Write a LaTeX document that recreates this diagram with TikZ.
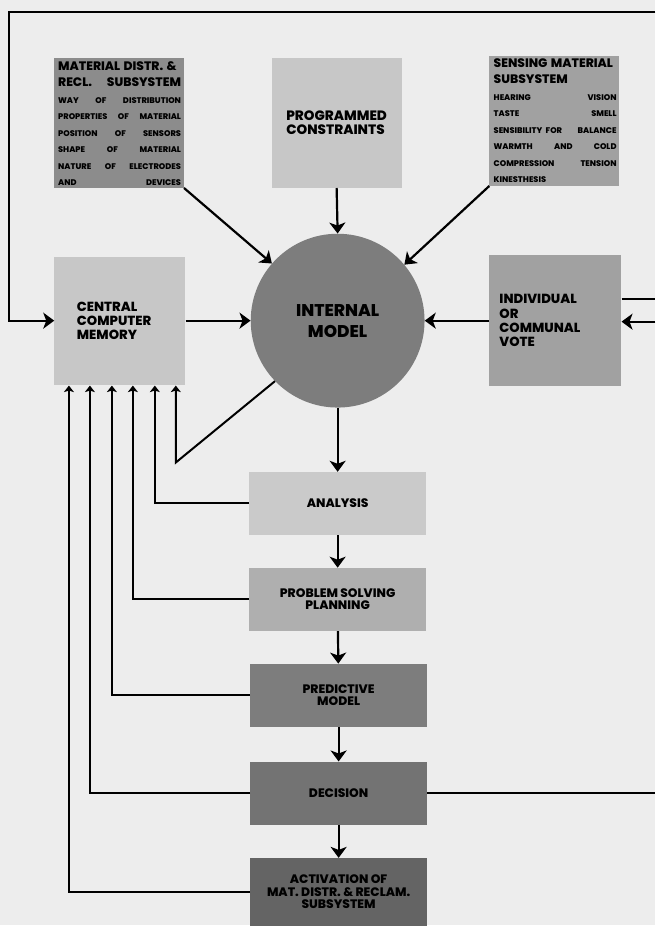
\documentclass[tikz,border=0pt]{standalone}
\usepackage{fontspec}
\setmainfont{Poppins}[BoldFont={Poppins ExtraBold}]
\usetikzlibrary{arrows.meta,positioning}

\definecolor{paper}{gray}{0.93}
\definecolor{darkbox}{gray}{0.55}
\definecolor{midbox}{gray}{0.63}
\definecolor{lightbox}{gray}{0.78}
\definecolor{modelgray}{gray}{0.49}

\newcommand{\titlefont}{\bfseries\fontsize{12.3}{15.5}\selectfont}
\newcommand{\listfont}{\bfseries\fontsize{8.2}{16.6}\selectfont}

\begin{document}
\begin{tikzpicture}[x=1pt,y=-1pt,
  box/.style={fill=#1, minimum width=130pt, minimum height=130pt, inner sep=0pt},
  flow/.style={fill=#1, minimum width=177pt, minimum height=63pt, inner sep=0pt,
    align=center, font=\bfseries\fontsize{12.3}{12.5}\selectfont},
  boxtext/.style={text width=123pt, inner sep=0pt, align=left},
  wire/.style={line width=2.2pt},
  bigarrow/.style={wire,-{Stealth[length=11pt,width=16pt,inset=3pt]}},
  fb/.style={line width=2pt,-{Stealth[length=6.5pt,width=10pt,inset=1.5pt]}}]

% paper
\fill[paper] (0,0) rectangle (656,926);

% top row
\node[box=darkbox] (mat) at (119,123) {};
\node[boxtext, anchor=north west] (mattext) at (58,62)
  {{\titlefont MATERIAL DISTR. \&\\ RECL. \hfill SUBSYSTEM\par}
   {\listfont WAY \hfill OF \hfill DISTRIBUTION\\
   PROPERTIES \hfill OF \hfill MATERIAL\\
   POSITION \hfill OF \hfill SENSORS\\
   SHAPE \hfill OF \hfill MATERIAL\\
   NATURE \hfill OF \hfill ELECTRODES\\
   AND \hfill DEVICES\par}};
\node[box=lightbox, align=left, font=\bfseries\fontsize{13.6}{13.5}\selectfont] (prog) at (337,123)
  {PROGRAMMED\\CONSTRAINTS};
\node[box=midbox] (sens) at (555,121) {};
\node[boxtext, anchor=north west] (senstext) at (494,59)
  {{\titlefont SENSING MATERIAL\\ SUBSYSTEM\par}
   {\listfont HEARING \hfill VISION\\
   TASTE \hfill SMELL\\
   SENSIBILITY FOR \hfill BALANCE\\
   WARMTH \hfill AND \hfill COLD\\
   COMPRESSION \hfill TENSION\\
   KINESTHESIS\par}};

% middle row
\node[box=lightbox, minimum width=131pt, minimum height=128pt, text width=86pt, align=left,
  font=\bfseries\fontsize{13.2}{13.8}\selectfont] (ccm) at (120,321)
  {CENTRAL\\COMPUTER\\MEMORY};
\node[circle, fill=modelgray, minimum size=174pt, inner sep=0pt, align=center,
  font=\bfseries\fontsize{17}{21}\selectfont] (model) at (338,321)
  {INTERNAL\\MODEL};
\node[box=midbox, minimum width=132pt, minimum height=131pt, text width=112pt, align=left,
  font=\bfseries\fontsize{13.2}{14.5}\selectfont] (vote) at (556,321)
  {INDIVIDUAL\\OR\\COMMUNAL\\VOTE};

% chain
\node[flow=lightbox!95!white] (analysis) at (338,504) {ANALYSIS};
\node[flow=lightbox!88!black] (problem) at (338,600) {PROBLEM SOLVING\\PLANNING};
\node[flow=modelgray] (predict) at (339,696) {PREDICTIVE\\MODEL};
\node[flow=modelgray!92!black] (decision) at (339,794) {DECISION};
\node[flow=modelgray!80!black, minimum height=68pt] (activate) at (339,893)
  {ACTIVATION OF\\MAT. DISTR. \& RECLAM.\\SUBSYSTEM};

% coordinates
\coordinate (topright) at (656,12);
\coordinate (topleft) at (9,12);
\coordinate (voteout) at (656,299);
\coordinate (votein) at (656,322);
\coordinate (decout) at (656,794);
\coordinate (bend) at (176,463);
\foreach \i/\x in {1/69,2/90,3/112,4/133,5/155,6/176}
  \coordinate (in\i) at (\x,386);

% into the model
\draw[bigarrow] (mat.south east) -- (model.139);
\draw[bigarrow] (prog.south) -- (model.north);
\draw[bigarrow] (sens.south west) -- (model.40);
\draw[bigarrow] (ccm.east) -- (model.west);
\draw[bigarrow] (vote.west) -- (model.east);

% outer loop
\draw[bigarrow] (topright) -- (topleft) |- (ccm.west);
\draw[wire] (vote.east |- voteout) -- (voteout);
\draw[bigarrow] (votein) -- (vote.east |- votein);
\draw[wire] (decision.east) -- (decout);

% down the chain
\draw[bigarrow] (model.south) -- (analysis.north);
\draw[bigarrow] (analysis) -- (problem);
\draw[bigarrow] (problem) -- (predict);
\draw[bigarrow] (predict) -- (decision);
\draw[bigarrow] (decision) -- (activate);

% back to memory
\draw[fb] (model.224) -- (bend) -- (in6);
\draw[fb] (analysis.west) -| (in5);
\draw[fb] (problem.west) -| (in4);
\draw[fb] (predict.west) -| (in3);
\draw[fb] (decision.west) -| (in2);
\draw[fb] (activate.west) -| (in1);
\end{tikzpicture}
\end{document}
